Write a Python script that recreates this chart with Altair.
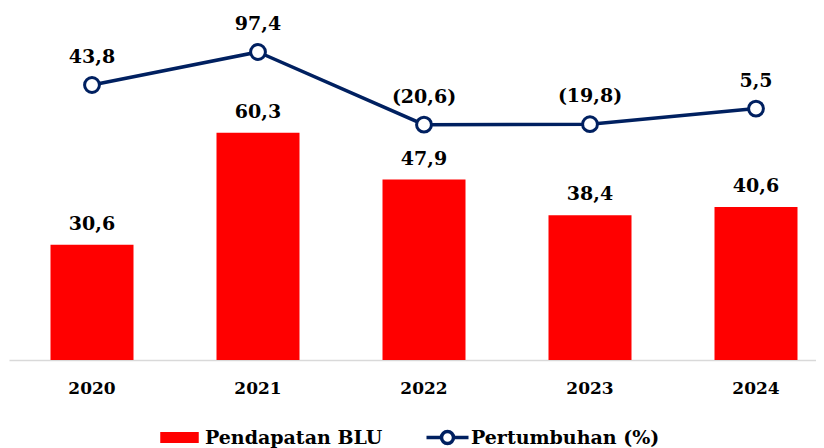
import altair as alt
import pandas as pd

years = ["2020", "2021", "2022", "2023", "2024"]
pendapatan = [30.6, 60.3, 47.9, 38.4, 40.6]
pertumbuhan = [43.8, 97.4, -20.6, -19.8, 5.5]

RED = "#FF0000"
NAVY = "#002060"
FONT = "DejaVu Serif"


def fmt(v):
    s = f"{abs(v):.1f}".replace(".", ",")
    return f"({s})" if v < 0 else s


df = pd.DataFrame({
    "tahun": years,
    "pendapatan": pendapatan,
    "pertumbuhan": pertumbuhan,
    "lbl_p": [fmt(v) for v in pendapatan],
    "lbl_g": [fmt(v) for v in pertumbuhan],
    "seri_bar": ["Pendapatan BLU"] * len(years),
    "seri_line": ["Pertumbuhan (%)"] * len(years),
})

x = alt.X(
    "tahun:N",
    sort=years,
    title=None,
    scale=alt.Scale(range=[0, 830], paddingInner=0.5, paddingOuter=0.25),
    axis=alt.Axis(
        labelAngle=0,
        labelFont=FONT,
        labelFontSize=17,
        labelFontWeight="bold",
        labelColor="#000000",
        labelPadding=20,
        ticks=False,
        domainColor="#D9D9D9",
        domainWidth=1.5,
        grid=False,
    ),
)

ybar = alt.Y("pendapatan:Q", scale=alt.Scale(domain=[0, 90], nice=False, zero=True), axis=None)
yline = alt.Y("pertumbuhan:Q", scale=alt.Scale(domain=[-402.6, 147.7], nice=False, zero=False), axis=None)

bars = alt.Chart(df).mark_bar(color=RED).encode(
    x=x,
    y=ybar,
    fill=alt.Fill(
        "seri_bar:N",
        scale=alt.Scale(domain=["Pendapatan BLU"], range=[RED]),
        legend=alt.Legend(
            title=None,
            orient="none",
            legendX=161,
            legendY=407,
            padding=0,
            symbolType="M-3.5,-1H3.5V1H-3.5Z",
            symbolSize=121,
            symbolStrokeWidth=0,
            labelOffset=16,
            labelLimit=400,
            labelFont=FONT,
            labelFontSize=19,
            labelFontWeight="bold",
            labelColor="#000000",
        ),
    ),
)

bar_text = alt.Chart(df).mark_text(
    font=FONT, fontSize=19, fontWeight="bold", color="#000000", dy=-21, baseline="middle"
).encode(x=x, y=ybar, text="lbl_p:N")

line = alt.Chart(df).mark_line(strokeWidth=3.5).encode(
    x=x,
    y=yline,
    stroke=alt.Stroke(
        "seri_line:N",
        scale=alt.Scale(domain=["Pertumbuhan (%)"], range=[NAVY]),
        legend=alt.Legend(
            title=None,
            orient="none",
            legendX=429,
            legendY=407,
            padding=0,
            symbolType="M-3.5,0H-1M1,0H3.5M-1,0A1,1 0 1,1 1,0A1,1 0 1,1 -1,0Z",
            symbolSize=144,
            symbolStrokeWidth=3.5,
            symbolFillColor="white",
            labelOffset=14,
            labelLimit=400,
            labelFont=FONT,
            labelFontSize=19,
            labelFontWeight="bold",
            labelColor="#000000",
        ),
    ),
)

points = alt.Chart(df).mark_point(
    shape="circle", filled=True, fill="white", stroke=NAVY, strokeWidth=3, size=220, opacity=1
).encode(x=x, y=yline)

line_text = alt.Chart(df).mark_text(
    font=FONT, fontSize=19, fontWeight="bold", color="#000000", dy=-28, baseline="middle"
).encode(x=x, y=yline, text="lbl_g:N")

chart = (
    alt.layer(
        alt.layer(bars, bar_text),
        alt.layer(line, points, line_text),
    )
    .resolve_scale(y="independent")
    .properties(
        width=807,
        height=339,
        background="white",
        autosize=alt.AutoSizeParams(type="none"),
        padding={"left": 1, "top": 13, "right": 0, "bottom": 96},
    )
    .configure_view(strokeWidth=0, stroke="transparent")
)

chart.save("out.html", embed_options={"renderer": "svg", "actions": False})
